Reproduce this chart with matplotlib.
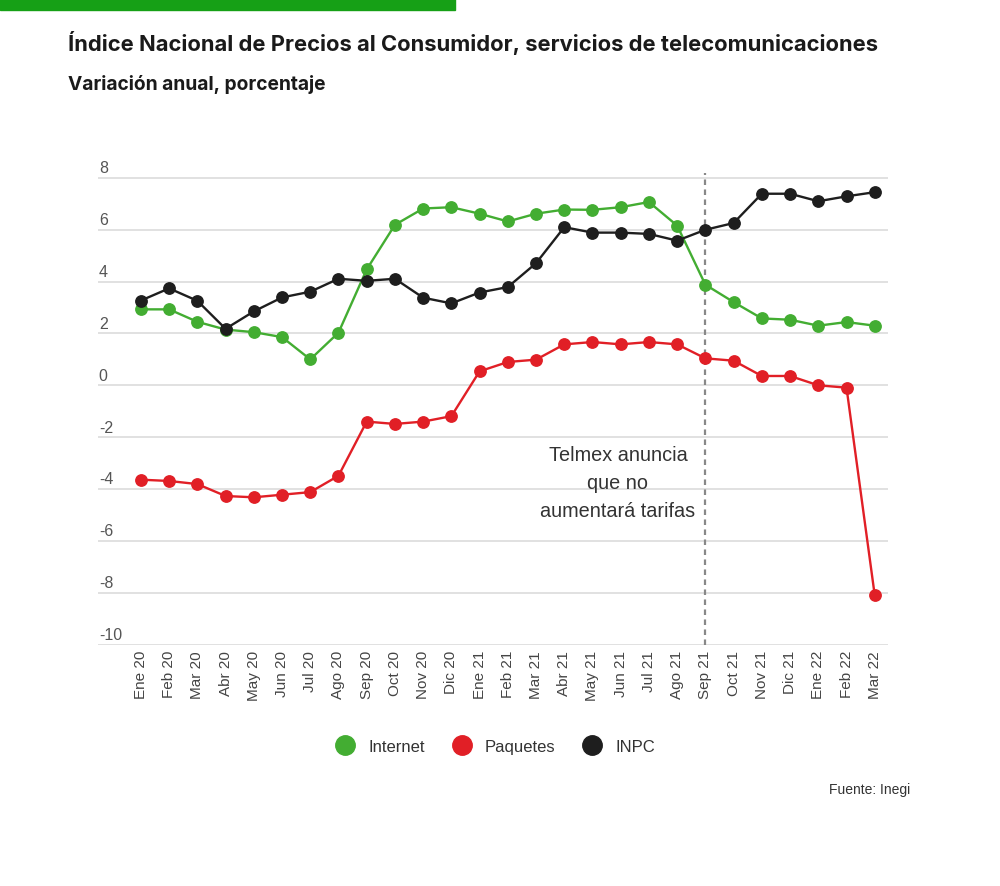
import matplotlib
matplotlib.use("Agg")
import matplotlib.pyplot as plt
from matplotlib.lines import Line2D
import matplotlib.transforms as mtransforms

# datos (variacion anual, %)
meses = ["Ene 20", "Feb 20", "Mar 20", "Abr 20", "May 20", "Jun 20", "Jul 20", "Ago 20",
         "Sep 20", "Oct 20", "Nov 20", "Dic 20", "Ene 21", "Feb 21", "Mar 21", "Abr 21",
         "May 21", "Jun 21", "Jul 21", "Ago 21", "Sep 21", "Oct 21", "Nov 21", "Dic 21",
         "Ene 22", "Feb 22", "Mar 22"]

internet = [2.93, 2.93, 2.45, 2.15, 2.05, 1.86, 1.00, 2.03, 4.47, 6.19, 6.82, 6.87, 6.62,
            6.32, 6.62, 6.78, 6.77, 6.87, 7.07, 6.16, 3.88, 3.21, 2.58, 2.53, 2.30, 2.44, 2.30]

paquetes = [-3.64, -3.69, -3.81, -4.27, -4.32, -4.22, -4.12, -3.49, -1.40, -1.49, -1.40, -1.19, 0.54,
            0.90, 0.99, 1.58, 1.67, 1.58, 1.67, 1.58, 1.04, 0.95, 0.36, 0.36, 0.00, -0.09, -8.10]

inpc = [3.27, 3.74, 3.26, 2.18, 2.85, 3.39, 3.61, 4.11, 4.03, 4.11, 3.38, 3.16, 3.58,
        3.79, 4.71, 6.10, 5.89, 5.89, 5.84, 5.58, 6.00, 6.26, 7.39, 7.39, 7.10, 7.29, 7.45]

yticks = [8, 6, 4, 2, 0, -2, -4, -6, -8, -10]
evento_mes = "Sep 21"
nota = "Telmex anuncia\nque no\naumentará tarifas"

verde = "#43ad32"
rojo = "#e11f26"
negro = "#1e1e1e"

plt.rcParams['font.family'] = ['Liberation Sans', 'DejaVu Sans']

fig = plt.figure(figsize=(10, 8.87), dpi=100)
ax = fig.add_axes([0.098, 0.2722, 0.79, 0.5407])

x = list(range(len(meses)))

# linea vertical del anuncio
xe = meses.index(evento_mes)
ax.plot([xe, xe], [-10, 8.2], color="#888888", lw=1.6, ls=(0, (2.5, 2)), zorder=1)

ax.plot(x, internet, color=verde, lw=1.7, marker="o", ms=8.2, zorder=3)
ax.plot(x, paquetes, color=rojo, lw=1.7, marker="o", ms=8.2, zorder=3)
ax.plot(x, inpc, color=negro, lw=1.7, marker="o", ms=8.2, zorder=4)

ax.set_xlim(-1.52, 26.47)
ax.set_ylim(-10, 8.5)

for t in yticks:
    ax.axhline(t, color="#d9d9d9", lw=1.1, zorder=0)

# etiquetas del eje y sobre las lineas de la cuadricula
trans = mtransforms.blended_transform_factory(ax.transAxes, ax.transData)
for t in yticks:
    ax.text(0.001, t + 0.1, str(t), transform=trans, ha="left", va="bottom",
            fontsize=11.5, color="#555555")

ax.set_yticks([])
ax.set_xticks(x)
ax.set_xticklabels(meses, rotation=90, fontsize=11, color="#444444")
ax.tick_params(axis="x", length=0, pad=4)
for s in ax.spines.values():
    s.set_visible(False)

ax.text(16.9, -3.75, nota, ha="center", va="center", fontsize=14.3,
        color="#333333", linespacing=1.6)

# leyenda
handles = [Line2D([], [], ls="none", marker="o", ms=14, color=verde),
           Line2D([], [], ls="none", marker="o", ms=14, color=rojo),
           Line2D([], [], ls="none", marker="o", ms=14, color=negro)]
fig.legend(handles, ["Internet", "Paquetes", "INPC"], loc="center",
           bbox_to_anchor=(0.492, 0.157), ncol=3, frameon=False, fontsize=12,
           handletextpad=0.4, columnspacing=1.2, labelcolor="#333333")

# barra verde superior
fig.patches.append(plt.Rectangle((0, 0.988), 0.455, 0.012, transform=fig.transFigure,
                                 color="#16a016", zorder=5))

fig.text(0.068, 0.952, "Índice Nacional de Precios al Consumidor, servicios de telecomunicaciones",
         fontsize=15.8, fontweight="bold", color="#1a1a1a", va="center", family="Inter")
fig.text(0.068, 0.905, "Variación anual, porcentaje", fontsize=13.8, fontweight="bold",
         color="#1a1a1a", va="center", family="Inter")
fig.text(0.91, 0.109, "Fuente: Inegi", fontsize=10, color="#333333", ha="right", va="center")

fig.savefig("out.png", dpi=100, facecolor="white")
